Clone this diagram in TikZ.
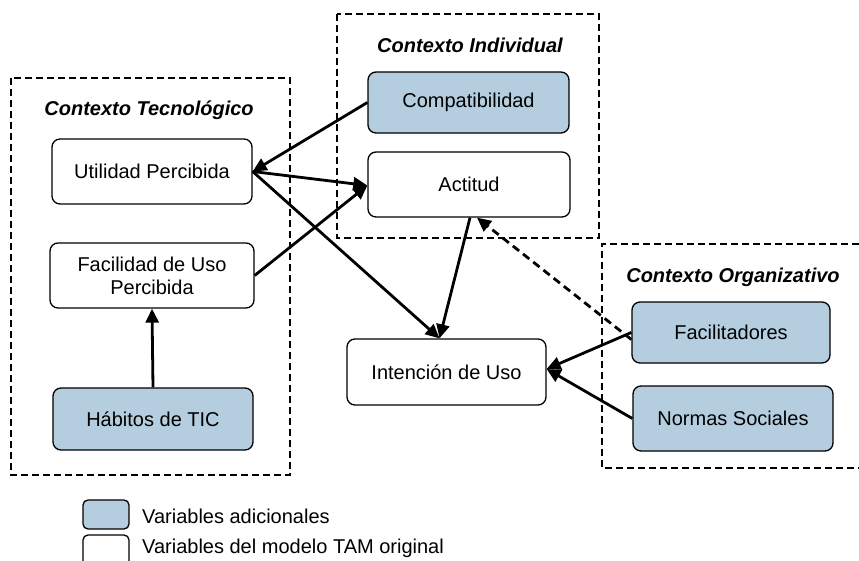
\documentclass[tikz,border=0pt]{standalone}
\usepackage{fontspec}
\setmainfont{Liberation Sans}
\usetikzlibrary{arrows.meta}
\definecolor{addblue}{RGB}{180,206,224}
\begin{document}
\begin{tikzpicture}[x=1pt,y=-1pt,
  box/.style={draw=black,line width=1.3pt,rounded corners=8pt,align=center,
    font=\fontsize{20}{23}\selectfont,inner sep=0pt},
  addbox/.style={box,fill=addblue},
  ctx/.style={draw=black,line width=2.2pt,dash pattern=on 7pt off 4pt},
  ctxtitle/.style={font=\fontsize{20}{23}\selectfont\bfseries\itshape,anchor=base,inner sep=0pt},
  arr/.style={line width=2.8pt,-{Triangle[length=14pt,width=13pt]}},
  darr/.style={arr,dash pattern=on 8pt off 5pt},
  legtext/.style={font=\fontsize{20}{23}\selectfont,anchor=west,inner sep=0pt}]
\useasboundingbox (0,0) rectangle (859,561);
\clip (0,0) rectangle (859,561);
% context frames
\draw[ctx] (11,78) rectangle (290,475);
\draw[ctx] (337,14) rectangle (599,238);
\draw[ctx] (859,244) -- (602,244) -- (602,468) -- (859,468);
\node[ctxtitle] (tTec) at (149,115.5) {Contexto Tecnológico};
\node[ctxtitle] (tInd) at (470,53) {Contexto Individual};
\node[ctxtitle] (tOrg) at (733,283) {Contexto Organizativo};
% nodes
\node[box,minimum width=200pt,minimum height=65pt] (util) at (152,171.5) {Utilidad Percibida};
\node[box,minimum width=204pt,minimum height=65pt] (facil) at (152,275.5) {Facilidad de Uso\\Percibida};
\node[addbox,minimum width=200pt,minimum height=62pt] (hab) at (153,419) {Hábitos de TIC};
\node[addbox,minimum width=201pt,minimum height=61pt] (compat) at (468.5,102.5) {Compatibilidad};
\node[box,minimum width=202pt,minimum height=65pt] (act) at (469,184.5) {Actitud};
\node[box,minimum width=199pt,minimum height=66pt] (int) at (446.5,372) {Intención de Uso};
\node[addbox,minimum width=198pt,minimum height=61pt] (facilit) at (731,332.5) {Facilitadores};
\node[addbox,minimum width=200pt,minimum height=65pt] (normas) at (733,418.5) {Normas Sociales};
% arrows
\draw[arr] (hab.north) -- (facil.south);
\draw[arr] (compat.west) -- (util.east);
\draw[arr] (util.east) -- ([yshift=-1pt]act.west);
\draw[arr] (facil.east) -- ([yshift=-1pt]act.west);
\draw[arr] (util.east) -- ([xshift=-7pt]int.north);
\draw[arr] ([xshift=1pt]act.south) -- ([xshift=-7pt]int.north);
\draw[darr] ([yshift=-7pt]facilit.west) -- ([xshift=8pt]act.south);
\draw[arr] (facilit.west) -- ([yshift=3pt]int.east);
\draw[arr] (normas.west) -- ([yshift=3pt]int.east);
% legend
\draw[line width=1.3pt,rounded corners=5pt,fill=addblue] (83,500) rectangle (129,529);
\draw[line width=1.3pt,rounded corners=5pt] (83,535) rectangle (129,580);
\node[legtext] (l1) at (142,516) {Variables adicionales};
\node[legtext] (l2) at (142,548) {Variables del modelo TAM original};
\end{tikzpicture}
\end{document}
